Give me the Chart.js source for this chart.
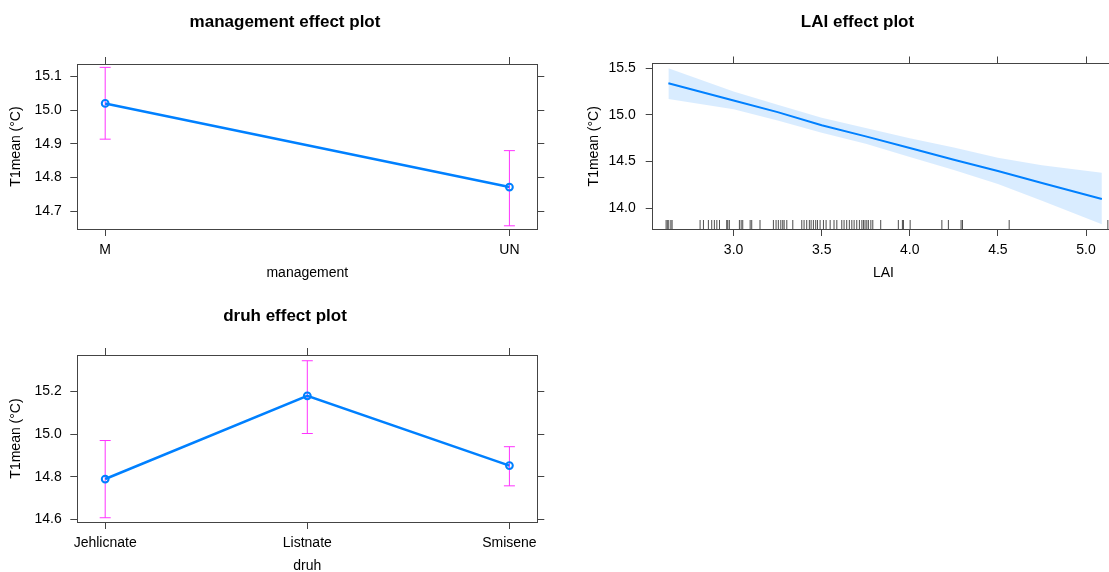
<!DOCTYPE html>
<html>
<head>
<meta charset="utf-8">
<script src="https://cdn.jsdelivr.net/npm/chart.js@4.4.1/dist/chart.umd.min.js"></script>
<style>
  html, body { margin: 0; padding: 0; background: #fff; overflow: hidden; width: 1109px; height: 572px; }
  .panel { position: absolute; }
</style>
</head>
<body>
<div class="panel" style="left:0;top:0;width:570px;height:290px"><canvas id="management"></canvas></div>
<div class="panel" style="left:580px;top:0;width:555px;height:290px"><canvas id="lai"></canvas></div>
<div class="panel" style="left:0;top:290px;width:570px;height:293px"><canvas id="druh"></canvas></div>
<script>
// management effect
const mgmtLevels = ['M', 'UN'];
const mgmtFit = [15.020, 14.772];
const mgmtLower = [14.914, 14.657];
const mgmtUpper = [15.127, 14.880];
const mgmtTicks = [14.7, 14.8, 14.9, 15.0, 15.1];

// druh effect
const druhLevels = ['Jehlicnate', 'Listnate', 'Smisene'];
const druhFit = [14.789, 15.180, 14.852];
const druhLower = [14.607, 15.003, 14.757];
const druhUpper = [14.970, 15.345, 14.941];
const druhTicks = [14.6, 14.8, 15.0, 15.2];

// LAI effect (fit line and confidence band)
const laiX     = [2.63, 3.00, 3.25, 3.50, 3.75, 4.00, 4.25, 4.50, 4.75, 5.09];
const laiFit   = [15.339, 15.155, 15.03, 14.89, 14.77, 14.645, 14.52, 14.40, 14.27, 14.10];
const laiLower = [15.17, 15.06, 14.94, 14.81, 14.69, 14.55, 14.41, 14.26, 14.08, 13.83];
const laiUpper = [15.50, 15.25, 15.11, 14.97, 14.86, 14.75, 14.65, 14.54, 14.46, 14.38];
const laiXTicks = [3.0, 3.5, 4.0, 4.5, 5.0];
const laiTopTicks = [3.0, 4.0, 4.5, 5.0];
const laiYTicks = [14.0, 14.5, 15.0, 15.5];
const laiRug = [
  2.617, 2.624, 2.632, 2.644, 2.651, 2.810, 2.829, 2.857, 2.876, 2.891,
  2.905, 2.920, 2.961, 2.967, 2.976, 3.033, 3.043, 3.052, 3.094, 3.103,
  3.150, 3.226, 3.241, 3.254, 3.268, 3.279, 3.287, 3.302, 3.336, 3.387,
  3.400, 3.415, 3.430, 3.440, 3.453, 3.466, 3.476, 3.491, 3.510, 3.525,
  3.548, 3.570, 3.586, 3.614, 3.627, 3.642, 3.657, 3.671, 3.684, 3.699,
  3.714, 3.728, 3.737, 3.746, 3.756, 3.765, 3.779, 3.790, 3.835, 3.935,
  3.958, 3.964, 4.002, 4.182, 4.219, 4.291, 4.299, 4.564, 5.124
];

const BLUE = '#0080ff';
const AXIS = '#444';
Chart.defaults.font.family = '"Liberation Sans", Arial, Helvetica, sans-serif';
Chart.defaults.color = '#000';

const grid = { drawOnChartArea: false, drawTicks: true, tickLength: 7, color: AXIS };
const border = { display: true, color: AXIS, width: 1 };

// four axes round the panel: labelled bottom/left, ticks only top/right
const boxScales = (o) => ({
  x: {
    type: 'linear', position: 'bottom', min: o.xMin, max: o.xMax,
    afterBuildTicks: s => { s.ticks = o.xTicks.map(v => ({ value: v })); },
    afterFit: s => { s.height = 61; },
    ticks: { autoSkip: false, maxRotation: 0, padding: 5.6, font: { size: 14 }, callback: o.xFmt },
    grid, border,
    title: { display: true, text: o.xTitle, font: { size: 14 }, padding: { top: 0, bottom: 8.6 } }
  },
  x2: {
    type: 'linear', position: 'top', min: o.xMin, max: o.xMax,
    afterBuildTicks: s => { s.ticks = (o.xTopTicks || o.xTicks).map(v => ({ value: v })); },
    afterFit: s => { s.height = o.topH; },
    ticks: { display: false }, grid, border
  },
  y: {
    type: 'linear', position: 'left', min: o.yMin, max: o.yMax,
    afterBuildTicks: s => { s.ticks = o.yTicks.map(v => ({ value: v })); },
    afterFit: s => { s.width = o.leftW; },
    ticks: { autoSkip: false, padding: o.yPad, font: { size: 14 }, callback: v => v.toFixed(1) },
    grid, border,
    title: { display: true, text: 'T1mean (°C)', font: { size: 14 }, padding: { top: o.yTitlePad, bottom: 0 } }
  },
  y2: {
    type: 'linear', position: 'right', min: o.yMin, max: o.yMax,
    afterBuildTicks: s => { s.ticks = o.yTicks.map(v => ({ value: v })); },
    afterFit: s => { s.width = o.rightW; },
    ticks: { display: false }, grid, border
  }
});

const titleOpts = (text, top) => ({
  display: true, text, color: '#000',
  font: { size: 17, weight: 'bold' },
  padding: { top, bottom: 0 }
});

const errorBars = (lower, upper) => ({
  id: 'errorBars',
  beforeDatasetsDraw(chart) {
    const { ctx, scales: { x, y } } = chart;
    ctx.save();
    ctx.strokeStyle = '#ff33ff';
    ctx.lineWidth = 1;
    lower.forEach((lo, i) => {
      const px = x.getPixelForValue(i + 1);
      const top = y.getPixelForValue(upper[i]);
      const bot = y.getPixelForValue(lo);
      ctx.beginPath();
      ctx.moveTo(px, top); ctx.lineTo(px, bot);
      ctx.moveTo(px - 5.5, top); ctx.lineTo(px + 5.5, top);
      ctx.moveTo(px - 5.5, bot); ctx.lineTo(px + 5.5, bot);
      ctx.stroke();
    });
    ctx.restore();
  }
});

const rug = (values) => ({
  id: 'rug',
  afterDatasetsDraw(chart) {
    const { ctx, chartArea, scales: { x } } = chart;
    ctx.save();
    ctx.strokeStyle = 'rgba(0,0,0,0.7)';
    ctx.lineWidth = 1;
    ctx.beginPath();
    values.forEach(v => {
      const px = x.getPixelForValue(v);
      ctx.moveTo(px, chartArea.bottom);
      ctx.lineTo(px, chartArea.bottom - 9);
    });
    ctx.stroke();
    ctx.restore();
  }
});

const factorLine = (levels, fit) => ({
  data: levels.map((_, i) => ({ x: i + 1, y: fit[i] })),
  borderColor: BLUE,
  borderWidth: 2.5,
  pointRadius: 3.4,
  pointBorderWidth: 2,
  pointBorderColor: BLUE,
  pointBackgroundColor: 'rgba(255,255,255,0)'
});

const baseOptions = {
  responsive: true,
  maintainAspectRatio: false,
  animation: false,
  events: [],
  layout: { padding: 0 }
};

const main = () => {
  new Chart(document.getElementById('management'), {
    type: 'line',
    data: { datasets: [factorLine(mgmtLevels, mgmtFit)] },
    options: {
      ...baseOptions,
      plugins: { legend: { display: false }, title: titleOpts('management effect plot', 11.8) },
      scales: boxScales({
        xMin: 0.931, xMax: 2.069, xTicks: [1, 2], xFmt: v => mgmtLevels[Math.round(v) - 1],
        xTitle: 'management', yMin: 14.6475, yMax: 15.137, yTicks: mgmtTicks,
        leftW: 77.3, rightW: 32.7, topH: 31.8, yPad: 8.5, yTitlePad: 8
      })
    },
    plugins: [errorBars(mgmtLower, mgmtUpper)]
  });

  new Chart(document.getElementById('lai'), {
    type: 'line',
    data: {
      datasets: [
        {
          data: laiX.map((x, i) => ({ x, y: laiFit[i] })),
          borderColor: BLUE, borderWidth: 2, pointRadius: 0, order: 0
        },
        {
          data: laiX.map((x, i) => ({ x, y: laiUpper[i] })),
          borderWidth: 0, pointRadius: 0, fill: '+1',
          backgroundColor: 'rgba(0,128,255,0.15)', order: 1
        },
        {
          data: laiX.map((x, i) => ({ x, y: laiLower[i] })),
          borderWidth: 0, pointRadius: 0, fill: false, order: 2
        }
      ]
    },
    options: {
      ...baseOptions,
      plugins: { legend: { display: false }, title: titleOpts('LAI effect plot', 11.8) },
      scales: boxScales({
        xMin: 2.541, xMax: 5.16, xTicks: laiXTicks, xTopTicks: laiTopTicks, xFmt: v => v.toFixed(1),
        xTitle: 'LAI', yMin: 13.778, yMax: 15.551, yTicks: laiYTicks,
        leftW: 72.7, rightW: 20.8, topH: 31.3, yPad: 10, yTitlePad: 6
      })
    },
    plugins: [rug(laiRug)]
  });

  new Chart(document.getElementById('druh'), {
    type: 'line',
    data: { datasets: [factorLine(druhLevels, druhFit)] },
    options: {
      ...baseOptions,
      plugins: { legend: { display: false }, title: titleOpts('druh effect plot', 15.8) },
      scales: boxScales({
        xMin: 0.862, xMax: 3.138, xTicks: [1, 2, 3], xFmt: v => druhLevels[Math.round(v) - 1],
        xTitle: 'druh', yMin: 14.587, yMax: 15.372, yTicks: druhTicks,
        leftW: 77.3, rightW: 32.7, topH: 28.8, yPad: 8.5, yTitlePad: 8
      })
    },
    plugins: [errorBars(druhLower, druhUpper)]
  });
};

main();
</script>
</body>
</html>
